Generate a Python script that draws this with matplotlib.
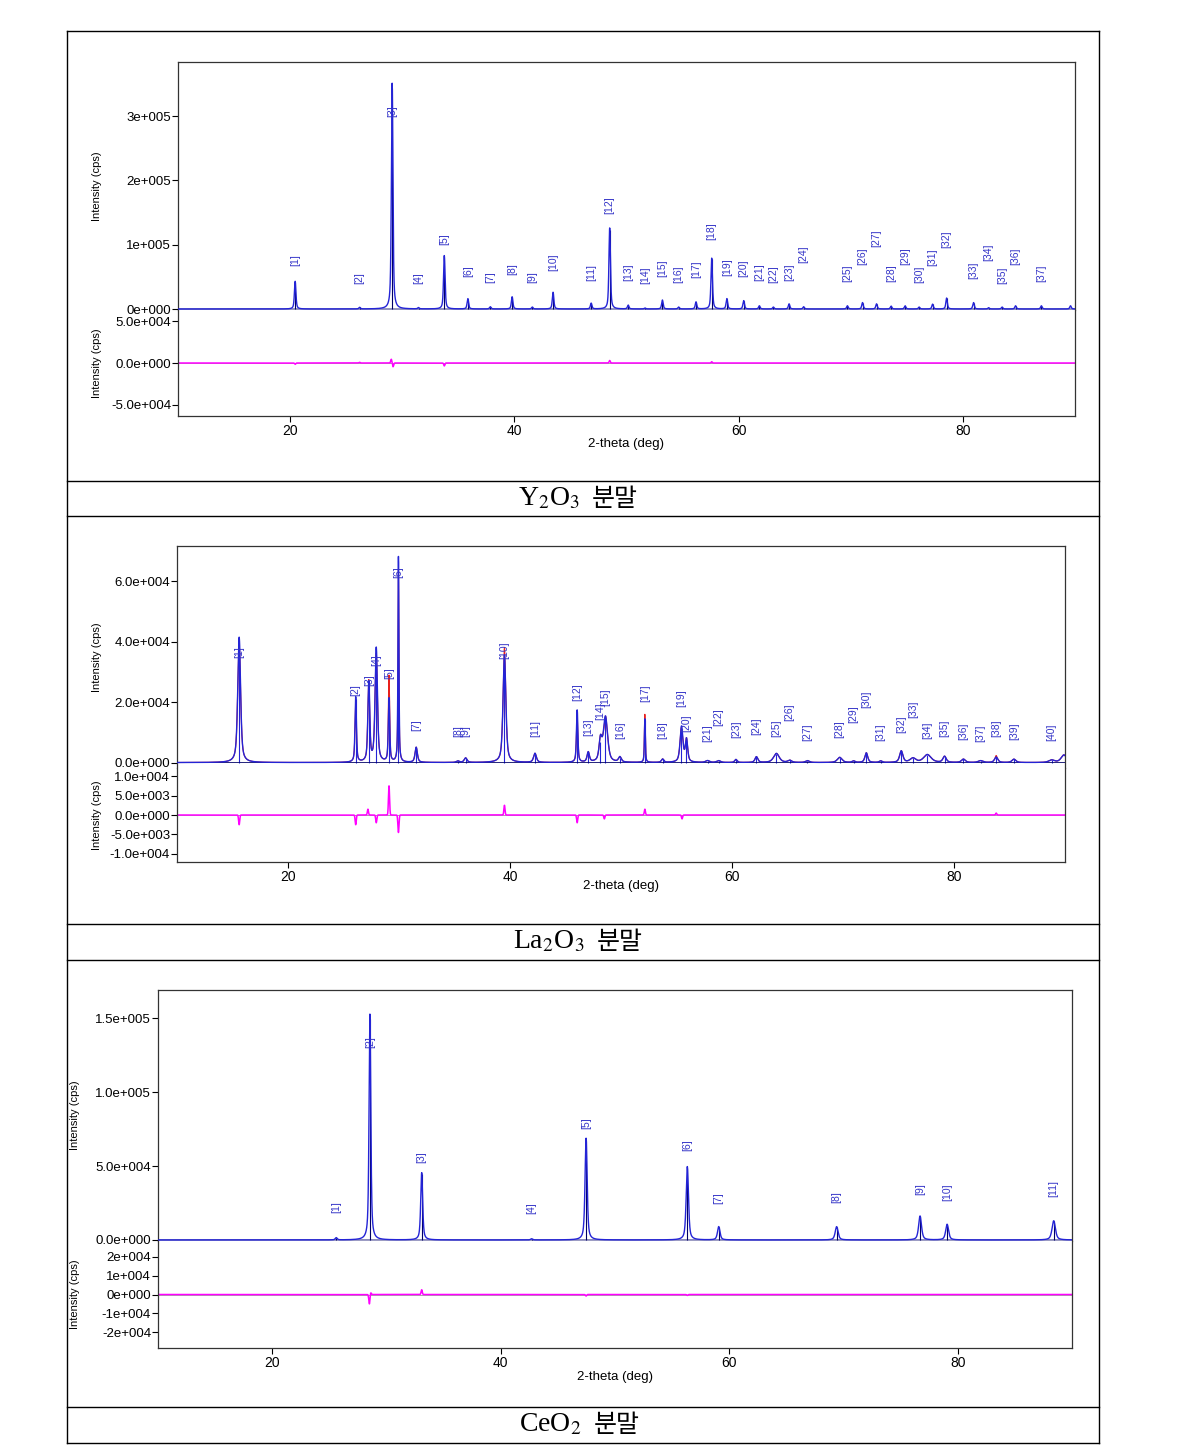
import matplotlib
matplotlib.use("Agg")
import matplotlib.pyplot as plt
import numpy as np
from matplotlib.lines import Line2D

plt.rcParams.update({
    "font.family": ["Liberation Sans", "DejaVu Sans"],
    "mathtext.fontset": "stix",
    "axes.linewidth": 0.9,
})

W, H = 1189, 1446
TH = np.linspace(10, 90, 16001)

BLUE = "#2424d6"
NAVY = "#000066"
LABEL_BLUE = "#3535c8"
RED = "#e8201c"
MAGENTA = "#ff00ff"

# ── Y2O3 ──────────────────────────────────────────────────────────────────────
y_pos = [20.45, 26.2, 29.1, 31.45, 33.75, 35.85, 37.85, 39.8, 41.6, 43.45,
         46.85, 48.5, 50.15, 51.65, 53.2, 54.65, 56.2, 57.6, 58.95, 60.45,
         61.85, 63.1, 64.5, 65.8, 69.7, 71.05, 72.3, 73.6, 74.85, 76.1,
         77.3, 78.55, 80.95, 82.3, 83.5, 84.7, 87.0]
y_hgt = [43000, 2500, 351000, 2000, 83000, 16000, 3500, 19000, 3000, 26000,
         9000, 126000, 6000, 1500, 14000, 3000, 11000, 79000, 16000, 13000,
         5000, 3000, 8000, 3500, 5000, 10000, 8000, 4500, 5000, 3000,
         7500, 17000, 10000, 2000, 3000, 5000, 5000]
y_lab = [76000, 48000, 308000, 48000, 109000, 59000, 50000, 62000, 50000, 73000,
         57500, 162000, 57500, 53000, 64000, 54500, 62000, 121000, 65000, 64000,
         57500, 54500, 57500, 85500, 56000, 82500, 110000, 56000, 82500, 54500,
         81000, 109000, 60500, 88500, 53000, 82500, 56000]
y_extra_pos = [89.6]
y_extra_hgt = [5000]
y_res_pos = [20.45, 26.2, 29.02, 29.18, 33.75, 48.5, 57.6]
y_res_amp = [-1500, 800, 4500, -4500, -3500, 3000, 1500]

# ── La2O3 ─────────────────────────────────────────────────────────────────────
l_pos = [15.6, 26.1, 27.28, 27.95, 29.1, 29.95, 31.55, 35.3, 36.0, 39.5,
         42.25, 46.05, 47.05, 48.15, 48.6, 49.9, 52.15, 53.75, 55.45, 55.9,
         57.8, 58.8, 60.35, 62.2, 64.0, 65.2, 66.8, 69.7, 70.95, 72.1,
         73.4, 75.25, 76.3, 77.6, 79.15, 80.85, 82.4, 83.8, 85.4, 88.8]
l_hgt = [41500, 21600, 26200, 37800, 21000, 68000, 5000, 500, 1500, 35600,
         3000, 17300, 3300, 7000, 15000, 1700, 14400, 1100, 11800, 7500,
         600, 600, 1000, 1900, 3000, 700, 600, 1700, 500, 3200,
         500, 3800, 1400, 2600, 2000, 1100, 600, 1800, 1100, 800]
l_fwhm = [0.3, 0.15, 0.2, 0.25, 0.15, 0.1, 0.25, 0.3, 0.3, 0.3,
          0.3, 0.15, 0.25, 0.3, 0.45, 0.3, 0.1, 0.25, 0.3, 0.25,
          0.4, 0.4, 0.25, 0.3, 0.6, 0.4, 0.4, 0.5, 0.3, 0.3,
          0.3, 0.35, 0.6, 0.8, 0.35, 0.4, 0.5, 0.35, 0.4, 0.6]
l_lab = [36600, 24000, 27300, 33900, 29600, 63100, 12400, 10400, 10400, 37200,
         11400, 23300, 11700, 17000, 21700, 10700, 23000, 10700, 21300, 13000,
         9700, 15000, 11000, 12000, 11400, 16700, 10000, 11000, 16000, 21000,
         10000, 12700, 17700, 10700, 11400, 10400, 9700, 11400, 10400, 10000]
l_extra_pos = [89.9]
l_extra_hgt = [2500]
l_res_pos = [15.6, 26.1, 27.2, 27.95, 29.1, 29.95, 39.5, 46.05, 48.5, 52.15, 55.5, 83.8]
l_res_amp = [-2500, -2500, 1500, -2000, 7500, -4500, 2500, -2000, -1000, 1500, -1000, 500]

# ── CeO2 ──────────────────────────────────────────────────────────────────────
c_pos = [25.6, 28.55, 33.08, 42.7, 47.47, 56.33, 59.08, 69.4, 76.7, 79.07, 88.4]
c_hgt = [1500, 152700, 45500, 800, 68800, 49600, 9000, 9000, 16200, 10600, 13000]
c_fwhm = [0.2, 0.18, 0.2, 0.2, 0.22, 0.24, 0.26, 0.3, 0.3, 0.3, 0.35]
c_lab = [22300, 134000, 56200, 21700, 79200, 64300, 28400, 29100, 34500, 32500, 34500]
c_res_pos = [28.5, 28.62, 33.08, 47.47, 56.33]
c_res_amp = [-5000, 1000, 2500, -800, -500]

# tick labels as printed by the software
y_main_ticks = [0, 100000, 200000, 300000]
y_main_lbl = ["0e+000", "1e+005", "2e+005", "3e+005"]
y_res_ticks = [-50000, 0, 50000]
y_res_lbl = ["-5.0e+004", "0.0e+000", "5.0e+004"]
l_main_ticks = [0, 20000, 40000, 60000]
l_main_lbl = ["0.0e+000", "2.0e+004", "4.0e+004", "6.0e+004"]
l_res_ticks = [-10000, -5000, 0, 5000, 10000]
l_res_lbl = ["-1.0e+004", "-5.0e+003", "0.0e+000", "5.0e+003", "1.0e+004"]
c_main_ticks = [0, 50000, 100000, 150000]
c_main_lbl = ["0.0e+000", "5.0e+004", "1.0e+005", "1.5e+005"]
c_res_ticks = [-20000, -10000, 0, 10000, 20000]
c_res_lbl = ["-2e+004", "-1e+004", "0e+000", "1e+004", "2e+004"]
x_ticks = [20, 40, 60, 80]


def pattern(pos, hgt, fwhm, eta=0.6):
    y = np.zeros_like(TH)
    for p, h, w in zip(pos, hgt, fwhm):
        hw = w / 2
        lor = hw ** 2 / ((TH - p) ** 2 + hw ** 2)
        gau = np.exp(-np.log(2) * ((TH - p) / hw) ** 2)
        y += h * (eta * lor + (1 - eta) * gau)
    return y


def wiggle(pos, amp, sig=0.05):
    y = np.zeros_like(TH)
    for p, a in zip(pos, amp):
        y += a * np.exp(-0.5 * ((TH - p) / sig) ** 2)
    return y


def rect(l, r, t, b):
    return [l / W, 1 - b / H, (r - l) / W, (b - t) / H]


def panel(fig, box, split, ylim_main, ylim_res, pos, hgt, fwhm, lab,
          res_pos, res_amp, main_ticks, main_lbl, res_ticks, res_lbl,
          ylab_x, xlab_y, extra=None, stick_color=NAVY, show_obs=False):
    l, r, t, b = box
    ax = fig.add_axes(rect(l, r, t, split))
    axr = fig.add_axes(rect(l, r, split, b))

    all_pos = list(pos) + (extra[0] if extra else [])
    all_hgt = list(hgt) + (extra[1] if extra else [])
    all_w = list(fwhm) + [fwhm[-1]] * (len(all_pos) - len(pos))
    calc = pattern(all_pos, all_hgt, all_w)
    res = wiggle(res_pos, res_amp)

    if show_obs:
        ax.plot(TH, calc + res, color=RED, lw=0.8, zorder=2)
    ax.vlines(pos, 0, np.array(hgt) * 0.98, color=stick_color, lw=0.8, zorder=3)
    ax.plot(TH, calc, color=BLUE, lw=1.0, zorder=4)
    ax.plot(TH, np.zeros_like(TH), color=NAVY, lw=0.6, zorder=3)
    for i, (p, ly) in enumerate(zip(pos, lab), start=1):
        ax.text(p, ly, f"[{i}]", rotation=90, ha="center", va="center",
                fontsize=7.5, color=LABEL_BLUE, zorder=5)

    axr.axhline(0, color="#999999", lw=0.6, zorder=1)
    axr.plot(TH, res, color=MAGENTA, lw=1.1, zorder=2)

    for a in (ax, axr):
        a.set_xlim(10, 90)
        a.tick_params(axis="y", direction="out", length=4, width=0.8,
                      labelsize=9.5, pad=1)
        for s in a.spines.values():
            s.set_color("#333333")
    ax.spines["bottom"].set_visible(False)
    axr.spines["top"].set_visible(False)
    ax.set_xticks([])
    ax.set_ylim(*ylim_main)
    ax.set_yticks(main_ticks)
    ax.set_yticklabels(main_lbl)
    axr.set_ylim(*ylim_res)
    axr.set_yticks(res_ticks)
    axr.set_yticklabels(res_lbl)
    axr.set_xticks(x_ticks)
    axr.set_xticklabels([str(v) for v in x_ticks])
    axr.tick_params(axis="x", direction="out", length=4, width=0.8,
                    labelsize=10, pad=2)

    fig.text(ylab_x / W, 1 - (t + split) / 2 / H, "Intensity (cps)",
             rotation=90, ha="center", va="center", fontsize=8)
    fig.text(ylab_x / W, 1 - (split + b) / 2 / H, "Intensity (cps)",
             rotation=90, ha="center", va="center", fontsize=8)
    fig.text((l + r) / 2 / W, 1 - xlab_y / H, "2-theta (deg)",
             ha="center", va="center", fontsize=9.5)
    return ax, axr


def hline(fig, x0, x1, y):
    fig.add_artist(Line2D([x0 / W, x1 / W], [1 - y / H, 1 - y / H],
                          transform=fig.transFigure, color="black", lw=1.0))


def vline(fig, x, y0, y1):
    fig.add_artist(Line2D([x / W, x / W], [1 - y0 / H, 1 - y1 / H],
                          transform=fig.transFigure, color="black", lw=1.0))


def caption(fig, y, formula, xr, xl):
    fig.text(xr / W, 1 - y / H, formula, ha="right", va="center",
             fontsize=20, family="Liberation Serif")
    fig.text(xl / W, 1 - y / H, "분말", ha="left", va="center",
             fontsize=18, family=["Noto Sans CJK KR", "DejaVu Sans"])


fig = plt.figure(figsize=(W / 100, H / 100), dpi=100)

panel(fig, (178, 1075, 62, 416), 310, (-1550, 384000), (-63500, 63500),
      y_pos, y_hgt, [0.16] * len(y_pos), y_lab, y_res_pos, y_res_amp,
      y_main_ticks, y_main_lbl, y_res_ticks, y_res_lbl, 97, 444,
      extra=(y_extra_pos, y_extra_hgt))

panel(fig, (177, 1065, 546, 862), 768, (-1800, 71700), (-12100, 12100),
      l_pos, l_hgt, l_fwhm, l_lab, l_res_pos, l_res_amp,
      l_main_ticks, l_main_lbl, l_res_ticks, l_res_lbl, 97, 886,
      extra=(l_extra_pos, l_extra_hgt), stick_color=BLUE, show_obs=True)

panel(fig, (158, 1072, 990, 1348), 1241, (-700, 169000), (-28200, 28200),
      c_pos, c_hgt, c_fwhm, c_lab, c_res_pos, c_res_amp,
      c_main_ticks, c_main_lbl, c_res_ticks, c_res_lbl, 75, 1377)

# table frame
for yy in (31, 481, 516, 924, 960, 1407, 1443):
    hline(fig, 67, 1099, yy)
vline(fig, 67, 31, 1443)
vline(fig, 1099, 31, 1443)

caption(fig, 499, "Y$_2$O$_3$", 580, 592)
caption(fig, 942, "La$_2$O$_3$", 584, 597)
caption(fig, 1425, "CeO$_2$", 582, 594)

fig.savefig("out.png", dpi=100)
